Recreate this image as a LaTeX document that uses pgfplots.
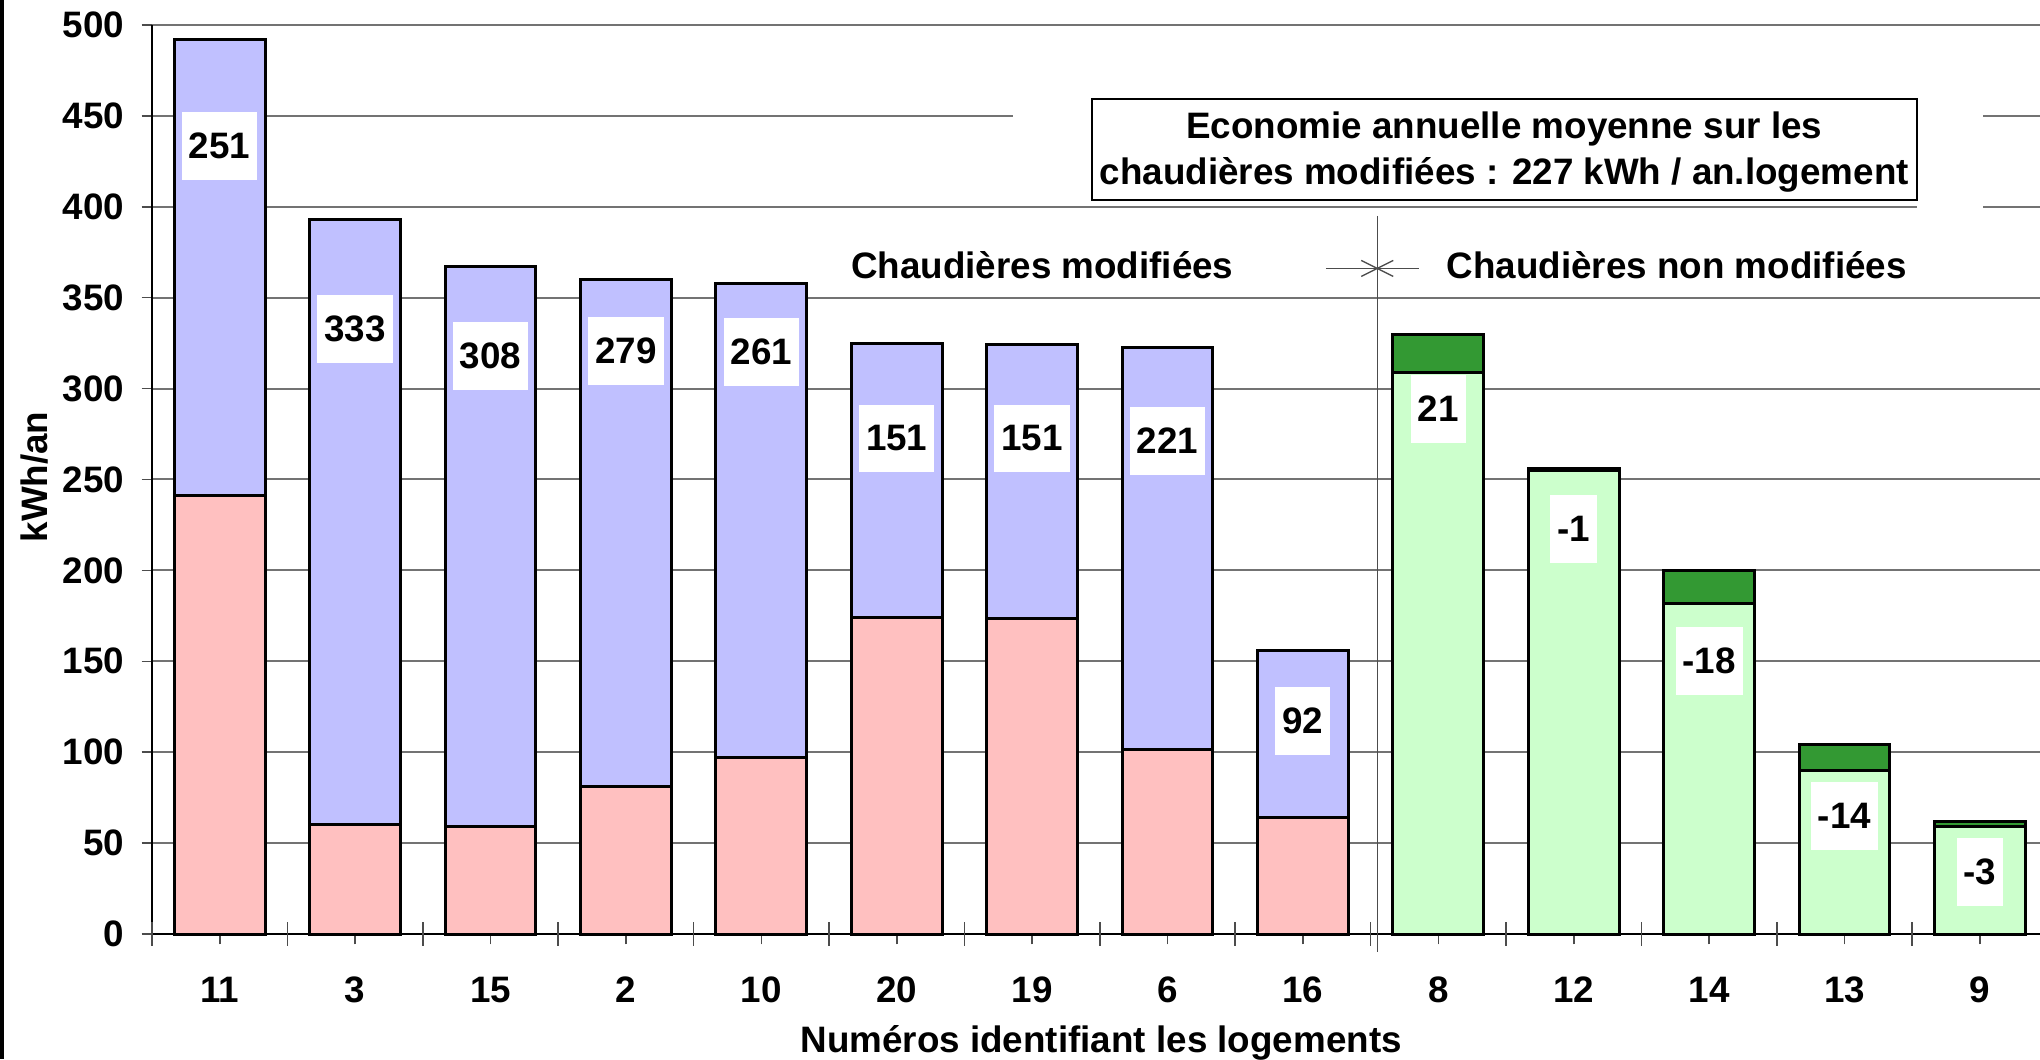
\documentclass[border=0pt]{standalone}
\usepackage{fontspec}
\setmainfont{Liberation Sans}
\usepackage{pgfplots}
\pgfplotsset{compat=1.18}
\usepackage{pgfplotstable}

\definecolor{cblue}{RGB}{192,192,255}
\definecolor{cpink}{RGB}{255,192,192}
\definecolor{clgreen}{RGB}{204,255,204}
\definecolor{cdgreen}{RGB}{51,153,51}

% chaudieres modifiees: base = reste, save = economie
\pgfplotstableread{
x base save
0 241 251
1 60 333
2 59 308
3 81 279
4 97 261
5 174 151
6 173.5 151
7 101.5 221
8 64 92
}\modif
% chaudieres non modifiees
\pgfplotstableread{
x base diff
9 309 21
10 255 1
11 182 18
12 90 14
13 59 3
}\nonmodif
% position des etiquettes
\pgfplotstableread{
x y lab
0 433.4 251
1 332.9 333
2 318.0 308
3 320.7 279
4 320.1 261
5 272.6 151
6 272.6 151
7 271.2 221
8 117.3 92
9 288.9 21
10 222.9 -1
11 150.3 -18
12 65.0 -14
13 34.1 -3
}\labels

\begin{document}
\begin{tikzpicture}[font=\fontsize{9.2}{11}\selectfont\bfseries]
\begin{axis}[
  at={(0,0)}, anchor=south west,
  width=472pt, height=227.25pt, scale only axis,
  xmin=-0.5, xmax=13.444, ymin=0, ymax=500,
  axis x line=bottom, axis y line=left,
  axis line style={-, line width=0.6pt},
  clip=false,
  xtick={0,...,13},
  xticklabels={11,3,15,2,10,20,19,6,16,8,12,14,13,9},
  ytick={0,50,...,500},
  tick align=outside,
  major tick length=2.6pt,
  tick style={black!70, line width=0.4pt},
  extra x ticks={-0.5,0.5,...,12.5},
  extra x tick labels={},
  extra x tick style={tick align=center, major tick length=5.8pt, grid=none},
  ymajorgrids,
  grid style={black!55, line width=0.5pt},
  /pgf/number format/assume math mode=true,
  xticklabel style={anchor=base, yshift=-14.6pt},
  yticklabel style={anchor=east, xshift=-0.8pt},
]
\addplot[ybar, bar width=0.67, bar shift=0pt, draw=black, line width=0.75pt, fill=cblue]
  table[x=x, y expr=\thisrow{base}+\thisrow{save}] {\modif};
\addplot[ybar, bar width=0.67, bar shift=0pt, draw=black, line width=0.75pt, fill=cpink]
  table[x=x, y=base] {\modif};
\addplot[ybar, bar width=0.67, bar shift=0pt, draw=black, line width=0.75pt, fill=cdgreen]
  table[x=x, y expr=\thisrow{base}+\thisrow{diff}] {\nonmodif};
\addplot[ybar, bar width=0.67, bar shift=0pt, draw=black, line width=0.75pt, fill=clgreen]
  table[x=x, y=base] {\nonmodif};
\addplot[draw=none, mark=none, nodes near coords, point meta=explicit symbolic,
  every node near coord/.append style={anchor=center, fill=white, text=black,
    inner xsep=1.75pt, inner ysep=0pt, minimum height=16.9pt}]
  table[x=x, y=y, meta=lab] {\labels};

% encadre
\fill[white] (axis cs:5.858,401.5) rectangle (axis cs:13.02,470);
\fill[white] (axis cs:12.534,398) rectangle (axis cs:13.02,402);
\draw[black, line width=0.5pt, fill=white] (axis cs:6.441,403.7) rectangle (axis cs:12.534,459.3);
\node[anchor=base] at (axis cs:9.487,437.7) {Economie annuelle moyenne sur les};
\node[anchor=base] at (axis cs:9.487,412.5) {chaudières modifiées : 227 kWh / an.logement};

% separation
\node[anchor=base] at (axis cs:6.075,360.7) {Chaudières modifiées};
\node[anchor=base] at (axis cs:10.76,360.7) {Chaudières non modifiées};
\draw[black!70, line width=0.35pt] (axis cs:8.549,395) -- (axis cs:8.549,-9.9);
\draw[black!70, line width=0.35pt] (axis cs:8.169,366.1) -- (axis cs:8.858,366.1);
\draw[black!70, line width=0.35pt] (axis cs:8.431,370.5) -- (axis cs:8.667,361.7);
\draw[black!70, line width=0.35pt] (axis cs:8.431,361.7) -- (axis cs:8.667,370.5);

% titres des axes
\node[rotate=90, anchor=base] at ([xshift=-26pt]axis cs:-0.5,251.4) {kWh/an};
\node[anchor=base] at ([yshift=-29.5pt]axis cs:6.51,0) {Numéros identifiant les logements};
\end{axis}
\fill[black] (-38pt,-31.25pt) rectangle (-37pt,233.5pt);
\pgfresetboundingbox
\useasboundingbox (-38pt,-31.25pt) rectangle (472pt,233.5pt);
\end{tikzpicture}
\end{document}
